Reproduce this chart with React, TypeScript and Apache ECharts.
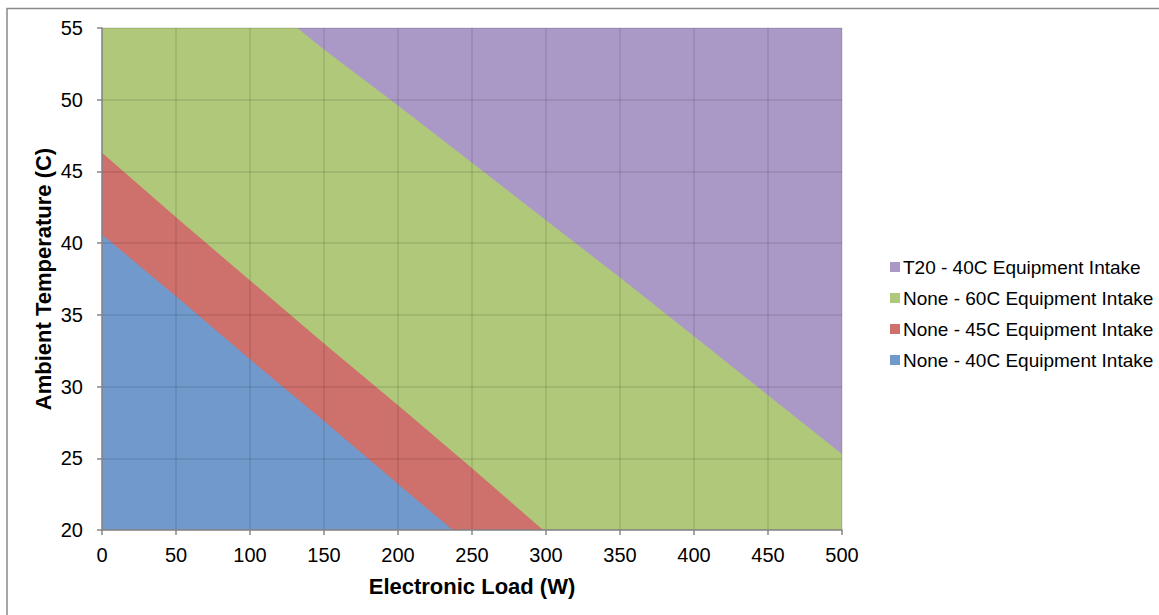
import React, { useEffect, useRef } from "react";
import * as echarts from "echarts";

const seriesNames = [
  "T20 - 40C Equipment Intake",
  "None - 60C Equipment Intake",
  "None - 45C Equipment Intake",
  "None - 40C Equipment Intake",
];
const seriesColors = ["#AA99C6", "#B0C87A", "#CE706B", "#7199CB"];

// Upper boundaries of each region [load W, ambient C]
const t20Boundary: [number, number][] = [
  [0, 55],
  [500, 55],
];
const none60Boundary: [number, number][] = [
  [0, 55],
  [132, 55],
  [150, 53.5],
  [200, 49.6],
  [250, 45.6],
  [300, 41.6],
  [350, 37.6],
  [400, 33.5],
  [450, 29.4],
  [500, 25.3],
];
const none45Boundary: [number, number][] = [
  [0, 46.3],
  [50, 41.8],
  [100, 37.4],
  [150, 33.0],
  [200, 28.7],
  [250, 24.3],
  [298, 20],
];
const none40Boundary: [number, number][] = [
  [0, 40.6],
  [50, 36.3],
  [100, 31.9],
  [150, 27.6],
  [200, 23.2],
  [237, 20],
];

const xMin = 0;
const xMax = 500;
const xInterval = 50;
const yMin = 20;
const yMax = 55;
const yInterval = 5;

const FONT = "'Liberation Sans', Arial, sans-serif";

export default function App() {
  const ref = useRef<HTMLDivElement>(null);
  useEffect(() => {
    if (!ref.current) return;
    const chart = echarts.init(ref.current, undefined, { renderer: "svg" });
    const boundaries = [t20Boundary, none60Boundary, none45Boundary, none40Boundary];
    const axisCommon = {
      z: 5,
      axisLine: { show: true, lineStyle: { color: "#868686", width: 1.5 } },
      axisTick: { show: true, length: 5, lineStyle: { color: "#868686", width: 1.5 } },
      splitLine: { show: true, lineStyle: { color: "rgba(0,0,0,0.11)", width: 1.5 } },
      axisLabel: { color: "#000", fontSize: 20, fontFamily: FONT },
      nameTextStyle: { color: "#000", fontSize: 22, fontWeight: "bold", fontFamily: FONT },
    };
    chart.setOption({
      animation: false,
      backgroundColor: "#fff",
      textStyle: { fontFamily: FONT },
      grid: { left: 102, top: 28, right: 317, bottom: 85, containLabel: false },
      graphic: [
        {
          type: "rect",
          shape: { x: 7, y: 8.5, width: 1300, height: 800 },
          style: { fill: "none", stroke: "#8a8a8a", lineWidth: 1.5 },
          silent: true,
        },
      ],
      legend: {
        orient: "vertical",
        left: 885,
        top: 252,
        itemWidth: 10,
        itemHeight: 10,
        itemGap: 11,
        icon: "rect",
        data: seriesNames,
        textStyle: { color: "#000", fontSize: 19, fontFamily: FONT, lineHeight: 20, padding: [0, 0, 0, -2] },
      },
      xAxis: {
        ...axisCommon,
        type: "value",
        min: xMin,
        max: xMax,
        interval: xInterval,
        name: "Electronic Load (W)",
        nameLocation: "middle",
        nameGap: 45,
        axisLabel: { ...axisCommon.axisLabel, margin: 15 },
      },
      yAxis: {
        ...axisCommon,
        type: "value",
        min: yMin,
        max: yMax,
        interval: yInterval,
        name: "Ambient Temperature (C)",
        nameLocation: "middle",
        nameMoveOverlap: false,
        nameGap: 48,
        axisLabel: { ...axisCommon.axisLabel, margin: 19 },
      },
      series: seriesNames.map((name, i) => ({
        name,
        type: "line",
        data: boundaries[i],
        showSymbol: false,
        symbol: "none",
        lineStyle: { width: 0, color: seriesColors[i] },
        itemStyle: { color: seriesColors[i] },
        areaStyle: { color: seriesColors[i], opacity: 1, origin: "start" },
        z: 2,
      })),
    });
    return () => chart.dispose();
  }, []);
  return (
    <div
      ref={ref}
      style={{ position: "absolute", left: 0, top: 0, width: 1159, height: 615 }}
    />
  );
}
